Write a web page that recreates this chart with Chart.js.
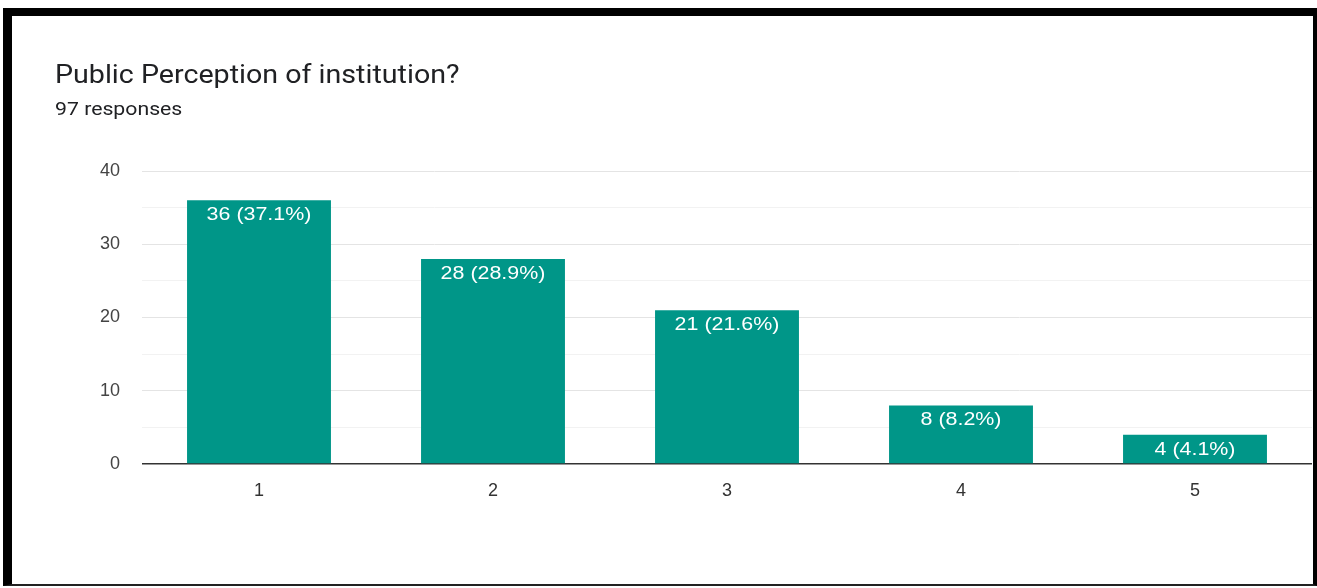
<!DOCTYPE html>
<html>
<head>
  <title>Public Perception of institution?</title>
  <script src="https://cdn.jsdelivr.net/npm/chart.js@4"></script>
  <style>
    html, body {
      margin: 0;
      padding: 0;
      background: #fff;
      overflow: hidden;
    }
    .frame {
      position: absolute;
      left: 3px;
      top: 8px;
      width: 1301px;
      height: 568px;
      border-top: 8px solid #000;
      border-left: 9px solid #000;
      border-right: 4px solid #000;
      border-bottom: 2px solid #222;
      pointer-events: none;
    }
    .title, .subtitle {
      position: absolute;
      left: 55px;
      font-family: Roboto, Arial, sans-serif;
      color: #202124;
      white-space: nowrap;
      transform-origin: left top;
    }
    .title {
      top: 60px;
      font-size: 25px;
      transform: scaleX(1.145);
    }
    .subtitle {
      top: 98px;
      font-size: 18px;
      transform: scaleX(1.18);
    }
    #chart {
      position: absolute;
      left: 0;
      top: 0;
    }
  </style>
</head>
<body>
  <canvas id="chart" width="1317" height="588"></canvas>
  <div class="title">Public Perception of institution?</div>
  <div class="subtitle">97 responses</div>
  <div class="frame"></div>

  <script>
    const categories = ['1', '2', '3', '4', '5'];
    const counts = [36, 28, 21, 8, 4];
    const percents = ['37.1%', '28.9%', '21.6%', '8.2%', '4.1%'];
    const yTicks = [0, 10, 20, 30, 40];

    const barColor = 'rgb(0, 150, 136)';
    const font = 'Liberation Sans, Arial, sans-serif';

    // draws "36 (37.1%)" just inside the top of each bar
    // (the source screenshot is a bit stretched sideways, hence the scale)
    const barLabels = {
      id: 'barLabels',
      afterDatasetsDraw(chart) {
        const ctx = chart.ctx;
        const meta = chart.getDatasetMeta(0);
        meta.data.forEach((bar, i) => {
          ctx.save();
          ctx.translate(bar.x, bar.y + 15);
          ctx.scale(1.19, 1);
          ctx.fillStyle = '#fff';
          ctx.font = '18px ' + font;
          ctx.textAlign = 'center';
          ctx.textBaseline = 'middle';
          ctx.fillText(counts[i] + ' (' + percents[i] + ')', 0, 0);
          ctx.restore();
        });
      }
    };

    new Chart(document.getElementById('chart'), {
      type: 'bar',
      data: {
        labels: categories,
        datasets: [{
          data: counts,
          backgroundColor: barColor,
          barPercentage: 0.615,
          categoryPercentage: 1
        }]
      },
      options: {
        responsive: false,
        animation: false,
        layout: {
          padding: { left: 0, right: 5, top: 171, bottom: 84 }
        },
        plugins: {
          legend: { display: false },
          tooltip: { enabled: false }
        },
        scales: {
          x: {
            grid: { display: false },
            border: { display: false },
            ticks: {
              color: '#333',
              font: { family: font, size: 18 },
              padding: 8
            },
            afterFit(scale) { scale.height = 40; }
          },
          y: {
            min: 0,
            max: 40,
            border: { display: false },
            grid: {
              drawTicks: false,
              color: (c) => {
                const v = c.tick.value;
                if (v === 0) return '#333';
                return v % 10 === 0 ? '#e4e4e4' : '#f2f2f2';
              },
              lineWidth: (c) => c.tick.value === 0 ? 1.5 : 1
            },
            ticks: {
              stepSize: 5,
              color: '#444',
              padding: 22,
              font: { family: font, size: 18 },
              callback: (v) => yTicks.includes(v) ? v : ''
            },
            afterFit(scale) { scale.width = 142; }
          }
        }
      },
      plugins: [barLabels]
    });
  </script>
</body>
</html>
